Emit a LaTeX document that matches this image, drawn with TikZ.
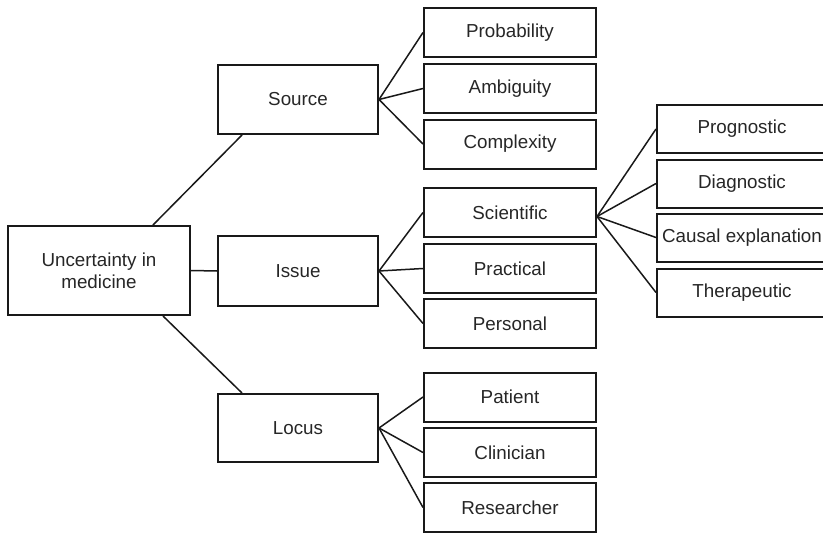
\documentclass[tikz,border=0pt]{standalone}
\usepackage{fontspec}
\setmainfont{Liberation Sans}
\begin{document}
\begin{tikzpicture}[x=1pt,y=-1pt,
  box/.style={draw=black!90, line width=2pt, rectangle, inner sep=0pt, align=center,
    font=\fontsize{18.8}{22}\selectfont, text=black!85},
  colb/.style={box, minimum width=172pt, minimum height=49pt},
  colc/.style={box, minimum width=170pt, minimum height=48pt},
  mid/.style={box, minimum width=160pt},
  conn/.style={draw=black!90, line width=1.5pt}]
\useasboundingbox (0,0) rectangle (823,533);
\clip (0,0) rectangle (823,533);
\node[box, minimum width=182pt, minimum height=89pt] (root) at (99,270.5) {Uncertainty in\\medicine};
\node[mid, minimum height=69pt] (source) at (298,99.5) {Source};
\node[mid, minimum height=70pt] (issue) at (298,271) {Issue};
\node[mid, minimum height=68pt] (locus) at (298,428) {Locus};
\node[colb] (prob) at (510,32.5) {Probability};
\node[colb] (amb) at (510,88.5) {Ambiguity};
\node[colb] (comp) at (510,144) {Complexity};
\node[colb] (sci) at (510,212.5) {Scientific};
\node[colb] (prac) at (510,268.5) {Practical};
\node[colb] (pers) at (510,323.5) {Personal};
\node[colb] (pat) at (510,397) {Patient};
\node[colb] (clin) at (510,452.5) {Clinician};
\node[colb] (res) at (510,507.5) {Researcher};
\node[colc] (prog) at (742,129) {Prognostic};
\node[colc] (diag) at (742,183.5) {Diagnostic};
\node[colc] (caus) at (742,237.5) {Causal explanation};
\node[colc] (ther) at (742,292.5) {Therapeutic};
\draw[conn] ([xshift=54pt]root.north) -- ([xshift=-56pt]source.south);
\draw[conn] (root.east) -- (issue.west);
\draw[conn] ([xshift=64pt]root.south) -- ([xshift=-56pt]locus.north);
\foreach \t in {prob,amb,comp} \draw[conn] (source.east) -- (\t.west);
\foreach \t in {sci,prac,pers} \draw[conn] (issue.east) -- (\t.west);
\foreach \t in {pat,clin,res} \draw[conn] (locus.east) -- (\t.west);
\foreach \t in {prog,diag,caus,ther} \draw[conn] ([yshift=-4pt]sci.east) -- (\t.west);
\end{tikzpicture}
\end{document}
